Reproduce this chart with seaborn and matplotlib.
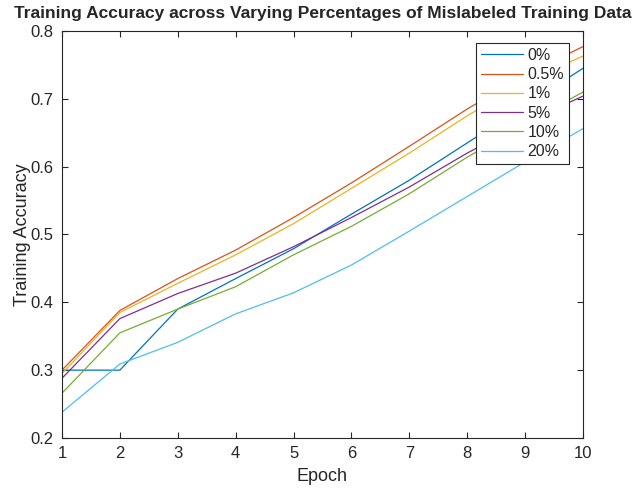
import pandas as pd
import matplotlib
matplotlib.use("Agg")
import matplotlib.pyplot as plt
import seaborn as sns

# data
epochs = [1, 2, 3, 4, 5, 6, 7, 8, 9, 10]
labels = ["0%", "0.5%", "1%", "5%", "10%", "20%"]
acc_0 = [0.300, 0.300, 0.390, 0.435, 0.479, 0.530, 0.580, 0.635, 0.690, 0.745]
acc_05 = [0.300, 0.388, 0.435, 0.477, 0.525, 0.576, 0.630, 0.685, 0.735, 0.777]
acc_1 = [0.295, 0.385, 0.428, 0.470, 0.516, 0.568, 0.620, 0.675, 0.725, 0.763]
acc_5 = [0.288, 0.376, 0.413, 0.443, 0.482, 0.525, 0.570, 0.620, 0.665, 0.704]
acc_10 = [0.266, 0.355, 0.390, 0.423, 0.470, 0.512, 0.560, 0.614, 0.663, 0.710]
acc_20 = [0.238, 0.309, 0.341, 0.383, 0.414, 0.455, 0.505, 0.556, 0.607, 0.656]

colors = ["#0072BD", "#D95319", "#EDB120", "#7E2F8E", "#77AC30", "#4DBEEE"]

rows = []
for lab, vals in zip(labels, [acc_0, acc_05, acc_1, acc_5, acc_10, acc_20]):
    for e, v in zip(epochs, vals):
        rows.append({"Epoch": e, "Accuracy": v, "Mislabeled": lab})
df = pd.DataFrame(rows)

sns.set_style("white")
plt.rcParams["font.family"] = ["Liberation Sans", "DejaVu Sans"]

fig = plt.figure(figsize=(6.35, 4.92), dpi=100)
ax = fig.add_axes([0.0976, 0.1098, 0.8205, 0.8272])

sns.lineplot(data=df, x="Epoch", y="Accuracy", hue="Mislabeled",
             hue_order=labels, palette=colors, linewidth=0.9, ax=ax)

ax.set_xlim(1, 10)
ax.set_ylim(0.2, 0.8)
ax.set_xticks(epochs)
ax.set_yticks([0.2, 0.3, 0.4, 0.5, 0.6, 0.7, 0.8])
ax.set_yticklabels(["0.2", "0.3", "0.4", "0.5", "0.6", "0.7", "0.8"])
ax.tick_params(direction="in", length=4, width=0.8, colors="#262626",
               labelsize=12, pad=6, top=True, right=True, bottom=True, left=True)
for s in ax.spines.values():
    s.set_color("#262626")
    s.set_linewidth(0.8)

ax.set_xlabel("Epoch", fontsize=13, color="#262626", labelpad=5)
ax.set_ylabel("Training Accuracy", fontsize=13, color="#262626", labelpad=0)
ax.set_title("Training Accuracy across Varying Percentages of Mislabeled Training Data",
             fontsize=12.5, fontweight="bold", pad=9)

leg = ax.legend(loc="upper left", bbox_to_anchor=(0.795, 0.9705), fontsize=11.5,
                frameon=True, fancybox=False, framealpha=1, handlelength=2.6,
                borderpad=0.3, labelspacing=0.27, handletextpad=0.3,
                borderaxespad=0)
leg.get_frame().set_edgecolor("#262626")
leg.get_frame().set_linewidth(0.8)
leg.set_title(None)

fig.savefig("out.png", dpi=100)
